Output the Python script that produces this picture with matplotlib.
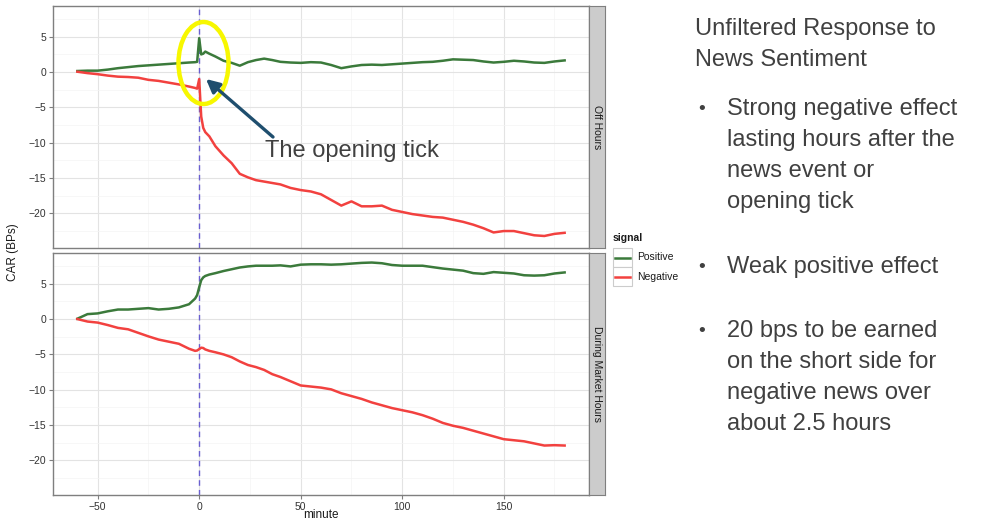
import matplotlib
matplotlib.use('Agg')
import matplotlib.pyplot as plt
from matplotlib.patches import Ellipse, FancyArrowPatch, Rectangle
from matplotlib.lines import Line2D

plt.rcParams['font.family'] = ['Liberation Sans', 'DejaVu Sans']

# minutes relative to the news event / opening tick
minutes = [-60, -55, -50, -45, -40, -35, -30, -25, -20, -15, -10, -5, -2, -1,
           0, 1, 2, 3, 5, 8, 12, 16, 20, 24, 28, 32, 36, 40,
           45, 50, 55, 60, 65, 70, 75, 80, 85, 90, 95, 100, 105, 110, 115, 120,
           125, 130, 135, 140, 145, 150, 155, 160, 165, 170, 175, 180]

# Off Hours panel
off_pos = [0.15, 0.2, 0.2, 0.35, 0.55, 0.7, 0.85, 0.95, 1.05, 1.15, 1.25, 1.35, 1.4, 1.45,
           4.8, 2.5, 2.6, 2.9, 2.6, 2.2, 1.6, 1.3, 0.9, 1.4, 1.7, 1.9, 1.7, 1.45,
           1.35, 1.3, 1.4, 1.35, 1.0, 0.55, 0.8, 1.0, 1.05, 1.0, 1.1, 1.2, 1.3, 1.4, 1.45, 1.6,
           1.8, 1.75, 1.7, 1.5, 1.35, 1.45, 1.6, 1.5, 1.35, 1.3, 1.5, 1.65]
off_neg = [0.05, -0.15, -0.3, -0.5, -0.65, -0.7, -0.8, -1.1, -1.25, -1.5, -1.75, -2.05, -2.25, -2.35,
           -1.0, -6.3, -7.9, -8.5, -9.1, -10.5, -11.8, -12.9, -14.4, -14.9, -15.3, -15.5, -15.7, -15.9,
           -16.4, -16.7, -16.9, -17.3, -18.1, -18.9, -18.3, -19.0, -19.0, -18.9, -19.5, -19.8, -20.1, -20.3,
           -20.5, -20.6, -20.9, -21.2, -21.6, -22.1, -22.7, -22.5, -22.5, -22.8, -23.1, -23.2, -22.9, -22.75]

# During Market Hours panel
mkt_pos = [0.05, 0.7, 0.8, 1.1, 1.35, 1.35, 1.45, 1.55, 1.35, 1.45, 1.65, 2.1, 2.9, 3.4,
           4.5, 5.5, 5.9, 6.1, 6.3, 6.5, 6.8, 7.05, 7.3, 7.45, 7.55, 7.55, 7.55, 7.6,
           7.45, 7.7, 7.75, 7.75, 7.7, 7.75, 7.85, 7.95, 8.0, 7.9, 7.65, 7.55, 7.55, 7.55,
           7.35, 7.15, 7.0, 6.85, 6.5, 6.4, 6.65, 6.55, 6.45, 6.2, 6.15, 6.2, 6.45, 6.6]
mkt_neg = [0.0, -0.35, -0.5, -0.85, -1.25, -1.45, -1.95, -2.45, -2.9, -3.2, -3.5, -4.2, -4.5, -4.45,
           -4.25, -4.05, -4.1, -4.3, -4.5, -4.7, -5.0, -5.4, -6.0, -6.5, -6.8, -7.2, -7.8, -8.2,
           -8.8, -9.4, -9.55, -9.7, -9.95, -10.5, -10.9, -11.3, -11.8, -12.2, -12.6, -12.9, -13.2, -13.6,
           -14.1, -14.7, -15.1, -15.4, -15.8, -16.2, -16.6, -17.0, -17.15, -17.3, -17.6, -17.9, -17.85, -17.9]

panels = [('Off Hours', off_pos, off_neg), ('During Market Hours', mkt_pos, mkt_neg)]
signals = ['Positive', 'Negative']
colors = {'Positive': '#3b7a3b', 'Negative': '#f2413f'}

W, H = 991, 520


def fx(px):
    return px / W


def fy(py):
    return 1 - py / H


fig = plt.figure(figsize=(W / 100, H / 100), dpi=100)

panel_top = [6, 253]
panel_h = 242
for i, (name, pos, neg) in enumerate(panels):
    top = panel_top[i]
    ax = fig.add_axes([fx(53), fy(top + panel_h), fx(589) - fx(53), panel_h / H])
    ax.set_xlim(-72, 192)
    ax.set_ylim(-24.9, 9.35)
    ax.set_xticks([-50, 0, 50, 100, 150])
    ax.set_xticks([-25, 25, 75, 125, 175], minor=True)
    ax.set_yticks([-20, -15, -10, -5, 0, 5])
    ax.set_yticks([-22.5, -17.5, -12.5, -7.5, -2.5, 2.5, 7.5], minor=True)
    ax.grid(which='major', color='#e3e3e3', lw=0.8)
    ax.grid(which='minor', color='#f4f4f4', lw=0.5)
    ax.set_axisbelow(True)
    for s in ax.spines.values():
        s.set_color('#7f7f7f')
        s.set_linewidth(1)
    ax.tick_params(which='minor', length=0)
    ax.tick_params(which='major', length=3, color='#7f7f7f', labelsize=7.5,
                   labelcolor='#333333', pad=2)
    if i == 0:
        ax.tick_params(axis='x', which='major', length=0, labelbottom=False)

    ax.axvline(0, color='#6a5fd0', ls=(0, (4, 3)), lw=1, zorder=2)
    ax.plot(minutes, pos, color=colors['Positive'], lw=1.8, zorder=3)
    ax.plot(minutes, neg, color=colors['Negative'], lw=1.8, zorder=3)

    # facet strip on the right
    sx = fig.add_axes([fx(589), fy(top + panel_h), fx(605) - fx(589), panel_h / H])
    sx.set_facecolor('#cccccc')
    sx.set_xticks([])
    sx.set_yticks([])
    for s in sx.spines.values():
        s.set_color('#7f7f7f')
    sx.text(0.5, 0.5, name, rotation=-90, ha='center', va='center',
            fontsize=7.5, color='#1a1a1a', transform=sx.transAxes)

fig.text(fx(13), fy(252), 'CAR (BPs)', rotation=90, ha='center', va='center',
         fontsize=8.5, color='#1a1a1a')
fig.text(fx(321), fy(518.5), 'minute', ha='center', va='baseline', fontsize=8.5, color='#1a1a1a')

# legend
fig.text(fx(613), fy(238), 'signal', fontsize=7.5, fontweight='bold', va='center', color='#1a1a1a')
for k, sig in enumerate(signals):
    y0 = 248 + k * 19
    fig.add_artist(Rectangle((fx(613), fy(y0 + 19)), 19 / W, 19 / H, transform=fig.transFigure,
                             facecolor='white', edgecolor='#cccccc', lw=0.8))
    fig.add_artist(Line2D([fx(615), fx(630)], [fy(y0 + 9.5)] * 2, transform=fig.transFigure,
                          color=colors[sig], lw=1.8))
    fig.text(fx(637), fy(y0 + 9.5), sig, fontsize=7.5, va='center', color='#1a1a1a')

# annotation: yellow circle, arrow and label
fig.add_artist(Ellipse((fx(203.5), fy(63)), 50 / W, 82 / H, transform=fig.transFigure,
                       fill=False, edgecolor='#f7f700', lw=3.2, zorder=5))
fig.add_artist(FancyArrowPatch((fx(273), fy(137)), (fx(206), fy(79)), transform=fig.transFigure,
                               arrowstyle='-|>', mutation_scale=20, color='#1f4e6e', lw=2.4,
                               shrinkA=0, shrinkB=0, zorder=6))
fig.text(fx(265), fy(151), 'The opening tick', fontsize=17, color='#404040', va='center')

# slide text on the right
txt_color = '#404040'
fig.text(fx(695), fy(29), 'Unfiltered Response to', fontsize=17, color=txt_color, va='center')
fig.text(fx(695), fy(60), 'News Sentiment', fontsize=17, color=txt_color, va='center')

bullets = [
    (109, ['Strong negative effect', 'lasting hours after the', 'news event or', 'opening tick']),
    (267, ['Weak positive effect']),
    (331, ['20 bps to be earned', 'on the short side for', 'negative news over', 'about 2.5 hours']),
]
for y0, lines in bullets:
    fig.text(fx(698), fy(y0), '\u2022', fontsize=14, color=txt_color, va='center')
    for j, line in enumerate(lines):
        fig.text(fx(727), fy(y0 + j * 31), line, fontsize=17, color=txt_color, va='center')

fig.savefig('out.png', dpi=100)
